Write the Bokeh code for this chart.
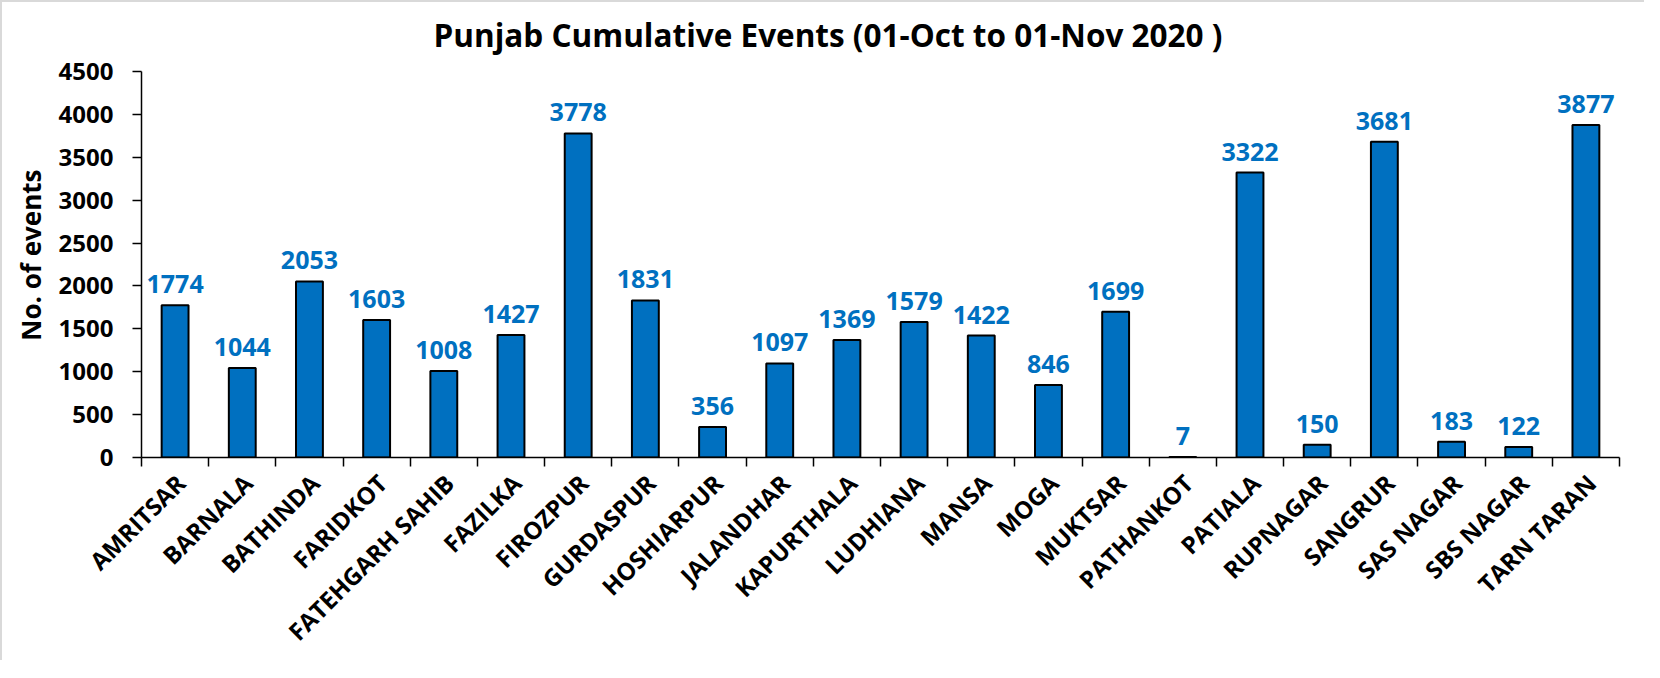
from math import pi
from bokeh.plotting import figure
from bokeh.models import Range1d, FixedTicker, ColumnDataSource, Title
from bokeh.core.properties import value
from bokeh.embed import file_html
from bokeh.resources import INLINE

districts = ["AMRITSAR", "BARNALA", "BATHINDA", "FARIDKOT", "FATEHGARH SAHIB",
             "FAZILKA", "FIROZPUR", "GURDASPUR", "HOSHIARPUR", "JALANDHAR",
             "KAPURTHALA", "LUDHIANA", "MANSA", "MOGA", "MUKTSAR", "PATHANKOT",
             "PATIALA", "RUPNAGAR", "SANGRUR", "SAS NAGAR", "SBS NAGAR", "TARN TARAN"]
events = [1774, 1044, 2053, 1603, 1008, 1427, 3778, 1831, 356, 1097, 1369,
          1579, 1422, 846, 1699, 7, 3322, 150, 3681, 183, 122, 3877]
y_ticks = [0, 500, 1000, 1500, 2000, 2500, 3000, 3500, 4000, 4500]
title_text = "Punjab Cumulative Events (01-Oct to 01-Nov 2020 )"
y_label = "No. of events"

BLUE = "#0070C0"
FONT = "Open Sans"
LABEL_SHIFT = 0.08   # nudge of the rotated category labels, in category widths

n = len(districts)
xs = [i + 0.5 for i in range(n)]
label_pos = [x + LABEL_SHIFT for x in xs]
src = ColumnDataSource(dict(x=xs, top=events, lbl=[str(v) for v in events]))

p = figure(width=1644, height=660, output_backend="svg", toolbar_location=None,
           x_range=Range1d(0, n), y_range=Range1d(0, y_ticks[-1]),
           min_border_left=139, min_border_right=27, min_border_top=69,
           min_border_bottom=205)
p.outline_line_color = None
p.xgrid.grid_line_color = None
p.ygrid.grid_line_color = None
p.background_fill_color = "white"
p.border_fill_color = "white"

# spacer between frame and title, then the title itself
p.add_layout(Title(text=" ", text_font_size="1px", standoff=13), "above")
p.add_layout(Title(text=title_text, align="left", offset=292, standoff=0,
                   text_font=FONT, text_font_style="bold",
                   text_font_size="31.5px", text_color="black"), "above")

p.vbar(x="x", top="top", width=0.4, source=src, fill_color=BLUE,
       line_color="black", line_width=2)
p.text(x="x", y="top", text="lbl", source=src, text_font=value(FONT),
       text_font_style="bold", text_font_size="25px", text_color=BLUE,
       text_align="center", text_baseline="alphabetic", y_offset=-21)

# y axis
ya = p.yaxis[0]
ya.ticker = FixedTicker(ticks=y_ticks)
ya.axis_line_color = "black"
ya.axis_line_width = 1.5
ya.major_tick_line_color = "black"
ya.major_tick_line_width = 1.5
ya.major_tick_out = 9
ya.major_tick_in = 0
ya.minor_tick_line_color = None
ya.major_label_standoff = 19
ya.major_label_text_font = FONT
ya.major_label_text_font_style = "bold"
ya.major_label_text_font_size = "24px"
ya.major_label_text_color = "black"

p.add_layout(Title(text=y_label, align="right", offset=98, standoff=12,
                   vertical_align="middle", text_font=FONT,
                   text_font_style="bold", text_font_size="26px",
                   text_color="black"), "left")

# x axis: ticks on category boundaries, rotated labels under each bar
xa = p.xaxis[0]
xa.ticker = FixedTicker(ticks=label_pos, minor_ticks=list(range(n + 1)))
xa.major_label_overrides = {x: d for x, d in zip(label_pos, districts)}
xa.major_label_orientation = pi / 4
xa.axis_line_color = "black"
xa.axis_line_width = 1.5
xa.major_tick_line_color = None
xa.major_tick_out = 9
xa.major_tick_in = 0
xa.minor_tick_line_color = "black"
xa.minor_tick_line_width = 1.5
xa.minor_tick_out = 9
xa.minor_tick_in = 0
xa.major_label_standoff = 12
xa.major_label_text_font = FONT
xa.major_label_text_font_style = "bold"
xa.major_label_text_font_size = "24px"
xa.major_label_text_color = "black"

p.styles = {"border-left": "2px solid #d9d9d9", "border-top": "2px solid #d9d9d9"}

open("out.html", "w").write(file_html(p, INLINE))
